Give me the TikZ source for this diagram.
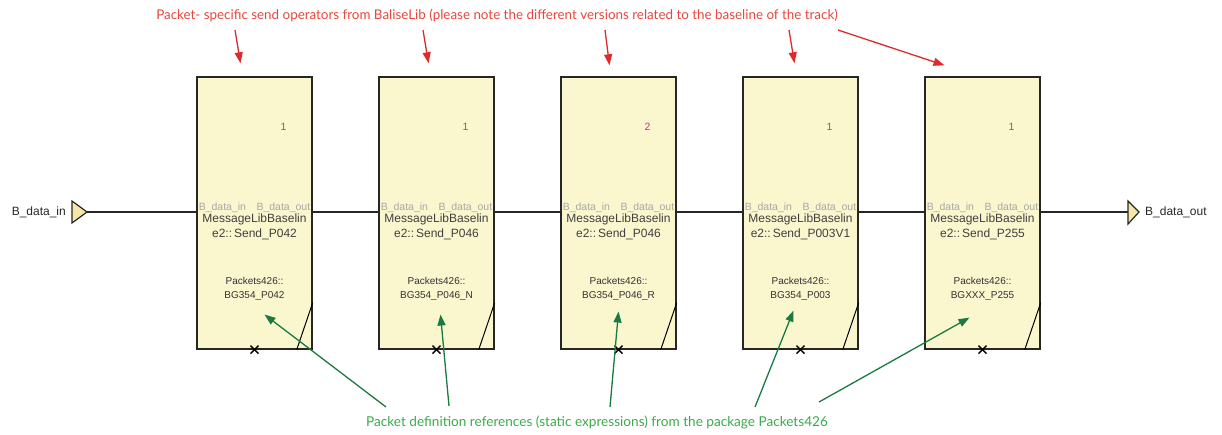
\documentclass[tikz,border=0pt]{standalone}
\usepackage{fontspec}
\setmainfont{Liberation Sans}
\newfontfamily\notefont{Lato}
\usetikzlibrary{arrows.meta,calc}
\definecolor{blockfill}{HTML}{FAF6CE}
\definecolor{portfill}{HTML}{F6E7A6}
\definecolor{notered}{HTML}{E8463C}
\definecolor{arrowred}{HTML}{DD2A2A}
\definecolor{notegreen}{HTML}{3BAA4A}
\definecolor{arrowgreen}{HTML}{1A7A42}
\definecolor{instnum}{HTML}{D02E9A}
\definecolor{ghost}{HTML}{A8A8A8}
\tikzset{
  opblock/.style={draw=black!85, line width=1.4pt, fill=blockfill,
    minimum width=115pt, minimum height=272pt, inner sep=0pt},
  opname/.style={font=\fontsize{12}{14.5}\selectfont, text=black!75, align=center, inner sep=0pt},
  pkname/.style={font=\fontsize{10}{13.5}\selectfont, text=black!80, align=center, inner sep=0pt},
  ghostlbl/.style={font=\fontsize{10.5}{12}\selectfont, text=ghost, inner sep=0pt},
  numlbl/.style={font=\fontsize{10.5}{12}\selectfont, text=instnum, inner sep=0pt},
  portlbl/.style={font=\fontsize{12}{14}\selectfont, text=black!85, inner sep=0pt},
  wire/.style={draw=black!85, line width=1.2pt},
  redarrow/.style={draw=arrowred, line width=1.3pt, -{Triangle[length=11pt,width=8pt]}},
  greenarrow/.style={draw=arrowgreen, line width=1.3pt, -{Triangle[length=11pt,width=8pt]}},
  xmark/.style={draw=black, line width=1.4pt},
}
\begin{document}
\begin{tikzpicture}[x=1pt,y=-1pt]
\useasboundingbox (0,0) rectangle (1222,434);

% operator blocks
\foreach \i/\cx/\num/\nm/\pk in {
  1/254.5/1/Send\_P042/BG354\_P042,
  2/436.5/1/Send\_P046/BG354\_P046\_N,
  3/618.5/2/Send\_P046/BG354\_P046\_R,
  4/800.5/1/Send\_P003V1/BG354\_P003,
  5/982.5/1/Send\_P255/BGXXX\_P255}{
  \node[opblock] (b\i) at (\cx,213) {};
  \node[numlbl] (n\i) at (\cx+29,127) {\num};
  \node[ghostlbl] (g\i) at (\cx,208) {B\_data\_in\quad B\_data\_out};
  \node[opname] (o\i) at (\cx,227) {MessageLibBaselin\\e2::\,\nm};
  \node[pkname] (p\i) at (\cx,289) {Packets426::\\\pk};
  % corner stroke and bottom cross
  \coordinate (c\i) at ($(b\i.south east)+(0,-47)$);
  \coordinate (d\i) at ($(b\i.south east)+(-16,0)$);
  \draw[black, line width=1pt] (c\i) -- (d\i);
  \draw[xmark] ($(b\i.south)+(-4,-4)$) -- ($(b\i.south)+(4,4)$)
               ($(b\i.south)+(-4,4)$) -- ($(b\i.south)+(4,-4)$);
}

% input and output ports
\draw[draw=black!85, line width=1.2pt, fill=portfill] (72,201) -- (87,212) -- (72,223) -- cycle;
\coordinate (pin) at (87,212);
\node[portlbl, anchor=east] (lin) at (66,212) {B\_data\_in};
\draw[draw=black!85, line width=1.2pt, fill=portfill] (1128,201) -- (1139,212) -- (1128,224) -- cycle;
\coordinate (pout) at (1128,212);
\node[portlbl, anchor=west] (lout) at (1145,212) {B\_data\_out};

% data wires
\draw[wire] (pin) -- (pin -| b1.west);
\draw[wire] (b1.east |- pin) -- (b2.west |- pin);
\draw[wire] (b2.east |- pin) -- (b3.west |- pin);
\draw[wire] (b3.east |- pin) -- (b4.west |- pin);
\draw[wire] (b4.east |- pin) -- (b5.west |- pin);
\draw[wire] (b5.east |- pin) -- (pout);

% annotation for the send operators
\node[font=\notefont\fontsize{13.4}{16}\selectfont, text=notered, inner sep=0pt] (topnote) at (497,15)
  {Packet- specific send operators from BaliseLib (please note the different versions related to the baseline of the track)};
\coordinate (t1) at (235,30); \coordinate (t2) at (423,30); \coordinate (t3) at (605,30);
\coordinate (t4) at (789,30); \coordinate (t5) at (838,30);
\draw[redarrow] (t1) -- ($(b1.north)+(-14,-13)$);
\draw[redarrow] (t2) -- ($(b2.north)+(-8,-13)$);
\draw[redarrow] (t3) -- ($(b3.north)+(-9,-11)$);
\draw[redarrow] (t4) -- ($(b4.north)+(-6,-13)$);
\draw[redarrow] (t5) -- ($(b5.north)+(-38,-11)$);

% annotation for the packet definitions
\node[font=\notefont\fontsize{13.6}{16}\selectfont, text=notegreen, inner sep=0pt] (botnote) at (597,422)
  {Packet definition references (static expressions) from the package Packets426};
\coordinate (s1) at (386,407); \coordinate (s2) at (449,406); \coordinate (s3) at (610,407);
\coordinate (s4) at (755,407); \coordinate (s5) at (819,402);
\draw[greenarrow] (s1) -- ($(p1.south)+(10,14)$);
\draw[greenarrow] (s2) -- ($(p2.south)+(4,14)$);
\draw[greenarrow] (s3) -- ($(p3.south)+(0,11)$);
\draw[greenarrow] (s4) -- ($(p4.south)+(-7,10)$);
\draw[greenarrow] (s5) -- ($(p5.south)+(-13,17)$);
\end{tikzpicture}
\end{document}
